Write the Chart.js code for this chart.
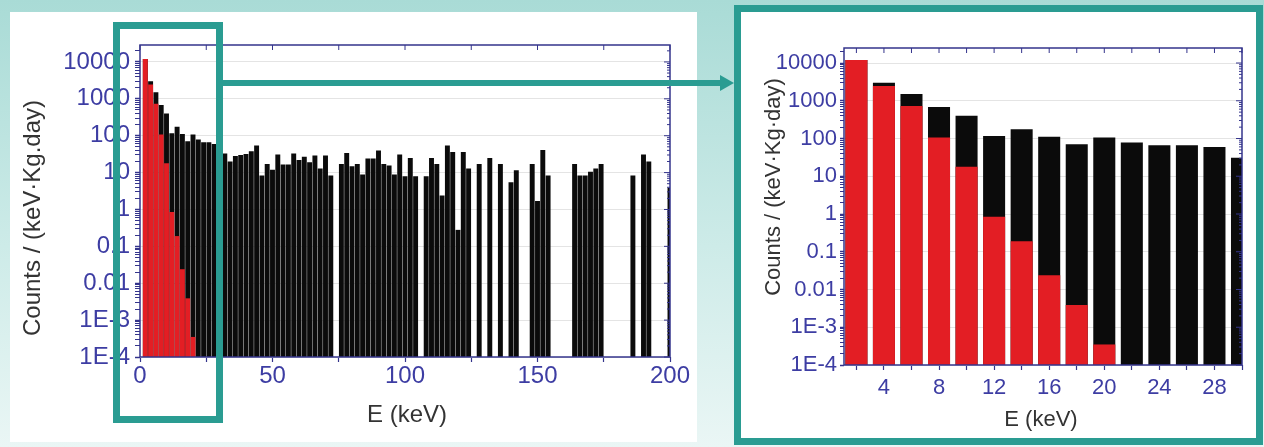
<!DOCTYPE html>
<html>
<head>
<meta charset="utf-8">
<script src="https://cdn.jsdelivr.net/npm/chart.js@4.4.1/dist/chart.umd.min.js"></script>
<style>
  html, body { margin: 0; padding: 0; }
  body {
    width: 1264px; height: 447px; position: relative; overflow: hidden;
    background: linear-gradient(180deg, #a9dbd6 0%, #cdebe8 55%, #eaf6f5 100%);
  }
  #leftCard { position: absolute; left: 10px; top: 12px; width: 687px; height: 430px; background: #fff; }
  #rightBox { position: absolute; left: 734px; top: 5px; width: 515px; height: 426px; background: #fff; border: 7px solid #2a9c92; }
  canvas { position: absolute; }
  #cvLeft { left: 10px; top: 12px; }
  #cvRight { left: 741px; top: 12px; }
  .teal { position: absolute; }
  #zoomBox { left: 113px; top: 22px; width: 96px; height: 387px; border: 7px solid #2a9c92; }
  #arrowLine { left: 223px; top: 80px; width: 500px; height: 6px; background: #2a9c92; }
  #arrowHead { left: 720px; top: 75px; width: 0; height: 0; border-left: 14px solid #2a9c92; border-top: 8px solid transparent; border-bottom: 8px solid transparent; }
</style>
</head>
<body>
<div id="leftCard"></div>
<div id="rightBox"></div>
<canvas id="cvLeft" width="687" height="430"></canvas>
<canvas id="cvRight" width="515" height="425"></canvas>
<div class="teal" id="zoomBox"></div>
<div class="teal" id="arrowLine"></div>
<div class="teal" id="arrowHead"></div>

<script>
// bin centres in keV (2 keV bins)
const energy = [
  2, 4, 6, 8, 10, 12, 14, 16, 18, 20, 22, 24, 26, 28, 30, 32, 34, 36, 38, 40,
  42, 44, 46, 48, 50, 52, 54, 56, 58, 60, 62, 64, 66, 68, 70, 72, 74, 76, 78, 80,
  82, 84, 86, 88, 90, 92, 94, 96, 98, 100, 102, 104, 106, 108, 110, 112, 114, 116, 118, 120,
  122, 124, 126, 128, 130, 132, 134, 136, 138, 140, 142, 144, 146, 148, 150, 152, 154, 156, 158, 160,
  162, 164, 166, 168, 170, 172, 174, 176, 178, 180, 182, 184, 186, 188, 190, 192, 194, 196, 198, 200
];

// total counts / (keV.kg.day) per bin, null = empty bin  (black)
const allCounts = [
  12000, 3000, 1500, 680, 400, 117, 175, 112, 71, 107,
  79, 66, 66, 60, 31, 33, 20, 28, 30, 32,
  38, 54, 8.3, 17, 12, 31, 16.6, 16.6, 33, 22,
  27, 19, 29, 13, 29, 8.3, null, 17, 34, 14.8,
  17, 8.9, 24, 24, 40, 17, 15.5, 8.9, 31, 7.9,
  25, 7.9, null, 7.9, 25, 17, 2.4, 54, 36, 0.28,
  36, 13, null, 17, null, 25, null, 17, null, 5.5,
  11.5, null, null, 17, 1.7, 41, 8.3, null, null, null,
  null, 17, 8.3, 8.3, 10.5, 13, 17, null, null, null,
  null, null, 8.3, null, 31, 20, null, null, null, 3.9
];

// low energy part (red)
const peakEnergy = [2, 4, 6, 8, 10, 12, 14, 16, 18, 20];
const peakCounts = [12000, 2450, 730, 107, 18, 0.85, 0.19, 0.024, 0.0039, 0.00035];

// axis ticks
const yTickValues = [1e-4, 1e-3, 0.01, 0.1, 1, 10, 100, 1000, 10000];
const yTickLabels = ['1E-4', '1E-3', '0.01', '0.1', '1', '10', '100', '1000', '10000'];
const leftXTicks = [0, 25, 50, 75, 100, 125, 150, 175, 200];
const leftXLabels = [0, 50, 100, 150, 200];
const rightXTicks = [2, 4, 6, 8, 10, 12, 14, 16, 18, 20, 22, 24, 26, 28, 30];
const rightXLabels = [4, 8, 12, 16, 20, 24, 28];

const axisColor = '#34348c';
const labelColor = '#3d3da3';
const fontFam = 'Arial, "Liberation Sans", sans-serif';

// log ticks 1..9 x 10^n, grid only on decades
function logTicks(max) {
  const out = [];
  yTickValues.forEach(v => {
    for (let m = 1; m <= 9; m++) {
      const t = +(v * m).toPrecision(3);
      if (t <= max) out.push({ value: t, major: m === 1 });
    }
  });
  return out;
}

function makeChart(id, c) {
  const totalPts = energy.map((e, i) => ({ x: e, y: allCounts[i] })).filter(p => p.y !== null);
  const peakPts = peakEnergy.map((e, i) => ({ x: e, y: peakCounts[i] }));

  // box around plot, inward ticks on top/right, axis titles
  const frame = {
    id: 'frame',
    afterDraw(chart) {
      const { ctx, chartArea: a, scales } = chart;
      ctx.save();
      ctx.strokeStyle = axisColor;
      ctx.lineWidth = 1.5;
      ctx.strokeRect(a.left, a.top, a.right - a.left, a.bottom - a.top);
      ctx.lineWidth = 1;
      scales.x.ticks.forEach(t => {
        const px = scales.x.getPixelForValue(t.value);
        ctx.beginPath(); ctx.moveTo(px, a.top); ctx.lineTo(px, a.top + 5); ctx.stroke();
      });
      scales.y.ticks.forEach(t => {
        const py = scales.y.getPixelForValue(t.value);
        ctx.beginPath(); ctx.moveTo(a.right, py); ctx.lineTo(a.right - (t.major ? 6 : 3), py); ctx.stroke();
      });
      ctx.fillStyle = '#333';
      ctx.font = c.titleSize + 'px ' + fontFam;
      ctx.textAlign = 'center';
      ctx.textBaseline = 'middle';
      ctx.fillText('E (keV)', c.xTitle[0], c.xTitle[1]);
      ctx.translate(c.yTitle[0], c.yTitle[1]);
      ctx.rotate(-Math.PI / 2);
      ctx.fillText(c.yTitleText, 0, 0);
      ctx.restore();
    }
  };

  return new Chart(document.getElementById(id), {
    type: 'bar',
    data: {
      datasets: [
        { data: peakPts, backgroundColor: '#e31e24' },
        { data: totalPts, backgroundColor: '#0b0b0b' }
      ]
    },
    options: {
      responsive: false,
      animation: false,
      grouped: false,
      barPercentage: c.barPct,
      categoryPercentage: 1,
      borderWidth: 0,
      layout: { padding: { top: c.padTop, right: c.padRight, left: 0, bottom: 0 } },
      plugins: { legend: { display: false }, tooltip: { enabled: false } },
      scales: {
        x: {
          type: 'linear', min: c.xMin, max: c.xMax, offset: false,
          afterBuildTicks: s => { s.ticks = c.xTicks.map(v => ({ value: v })); },
          afterFit: s => { s.height = c.xAxisH; },
          ticks: {
            autoSkip: false, maxRotation: 0, color: labelColor, padding: c.xPad,
            font: { family: fontFam, size: c.tickSize },
            callback: v => c.xLabels.includes(v) ? String(v) : ''
          },
          grid: { offset: false, drawOnChartArea: false, tickLength: 5, tickColor: axisColor, tickWidth: 1.2 },
          border: { display: false }
        },
        y: {
          type: 'logarithmic', min: 1e-4, max: c.yMax,
          afterBuildTicks: s => { s.ticks = logTicks(c.yMax); },
          afterFit: s => { s.width = c.yAxisW; },
          ticks: {
            autoSkip: false, color: labelColor, padding: c.yPad,
            font: { family: fontFam, size: c.tickSize },
            callback: v => { const i = yTickValues.indexOf(v); return i >= 0 ? yTickLabels[i] : ''; }
          },
          grid: {
            color: x => (x.tick && x.tick.major) ? '#e4e4e4' : 'rgba(0,0,0,0)',
            tickColor: axisColor,
            tickWidth: x => (x.tick && x.tick.major) ? 1.5 : 1,
            tickLength: c.yTickLen
          },
          border: { display: false }
        }
      }
    },
    plugins: [frame]
  });
}

// full spectrum 0-200 keV
makeChart('cvLeft', {
  xMin: 0, xMax: 200, yMax: 28800,
  xTicks: leftXTicks, xLabels: leftXLabels,
  barPct: 0.93, padTop: 33, padRight: 27, yAxisW: 130, xAxisH: 85,
  tickSize: 24, xPad: 0, yPad: 5, yTickLen: 5,
  titleSize: 24, xTitle: [397, 403], yTitle: [23, 206],
  yTitleText: 'Counts / (keV\u00b7Kg.day)'
});

// zoom on the low energy part
makeChart('cvRight', {
  xMin: 1.1, xMax: 30, yMax: 25000,
  xTicks: rightXTicks, xLabels: rightXLabels,
  barPct: 0.8, padTop: 36, padRight: 14, yAxisW: 103, xAxisH: 72,
  tickSize: 22, xPad: 5, yPad: 3, yTickLen: 4,
  titleSize: 22, xTitle: [300, 408], yTitle: [33, 175],
  yTitleText: 'Counts / (keV\u00b7Kg\u00b7day)'
});
</script>
</body>
</html>
